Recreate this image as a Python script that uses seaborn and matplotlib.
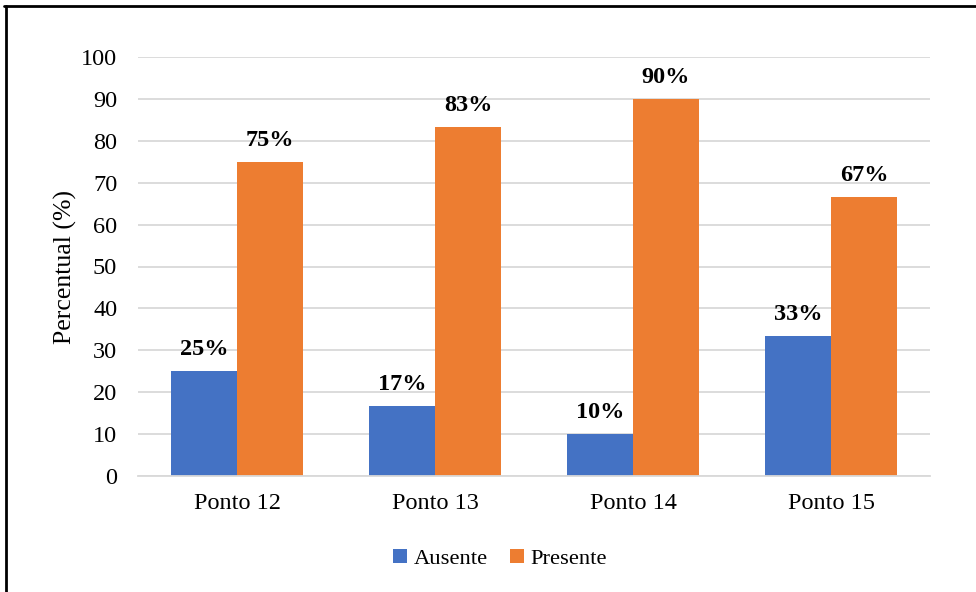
import matplotlib
matplotlib.use("Agg")
import matplotlib.pyplot as plt
from matplotlib.lines import Line2D
import seaborn as sns
import pandas as pd

# Dados
pontos = ["Ponto 12", "Ponto 13", "Ponto 14", "Ponto 15"]
ausente = [25.0, 16.67, 10.0, 33.33]
presente = [75.0, 83.33, 90.0, 66.67]
series = ["Ausente", "Presente"]
cores = ["#4472C4", "#ED7D31"]

df = pd.DataFrame({
    "Ponto": pontos * 2,
    "Situação": [series[0]] * len(pontos) + [series[1]] * len(pontos),
    "Percentual": ausente + presente,
})

sns.set_theme(style="white")
plt.rcParams["font.family"] = ["Liberation Serif", "DejaVu Serif"]
plt.rcParams["text.color"] = "black"
plt.rcParams["axes.labelcolor"] = "black"

fig = plt.figure(figsize=(9.76, 5.92), dpi=100)
ax = fig.add_axes([138 / 976, 1 - 476 / 592, (930 - 138) / 976, (476 - 57) / 592])

sns.barplot(data=df, x="Ponto", y="Percentual", hue="Situação",
            palette=cores, width=0.667, gap=0, ax=ax, saturation=1,
            edgecolor="none", legend=True)

ax.set_xlim(-0.5, len(pontos) - 0.5)
ax.set_ylim(0, 100)
ax.set_yticks(range(0, 101, 10))
ax.yaxis.grid(True, color="#d9d9d9", linewidth=1.3)
ax.set_axisbelow(True)
for side in ["top", "right", "left"]:
    ax.spines[side].set_visible(False)
ax.spines["bottom"].set_color("#d9d9d9")
ax.spines["bottom"].set_linewidth(1.3)
ax.tick_params(axis="both", length=0, labelsize=17.5, colors="black")
ax.tick_params(axis="y", pad=15)
ax.tick_params(axis="x", pad=12)
ax.set_xlabel("")
ax.set_ylabel("Percentual (%)", fontsize=18.5, labelpad=3, color="black")

# Rótulos de valor
for cont in ax.containers:
    labels = [f"{round(v):d}%" for v in cont.datavalues]
    ax.bar_label(cont, labels=labels, padding=8, fontsize=17.5,
                 fontweight="bold", color="black")

leg = ax.legend(loc="upper center", bbox_to_anchor=(0.457, -0.125), ncol=2,
                frameon=False, fontsize=16.2, handlelength=0.6, handleheight=0.6,
                handletextpad=0.3, columnspacing=1.0)
for t in leg.get_texts():
    t.set_color("black")

# Moldura
fig.add_artist(Line2D([4 / 976, 1], [1 - 6 / 592, 1 - 6 / 592],
                      transform=fig.transFigure, color="black", linewidth=2))
fig.add_artist(Line2D([6 / 976, 6 / 976], [0, 1 - 6 / 592],
                      transform=fig.transFigure, color="black", linewidth=2))

fig.savefig("out.png", dpi=100)
